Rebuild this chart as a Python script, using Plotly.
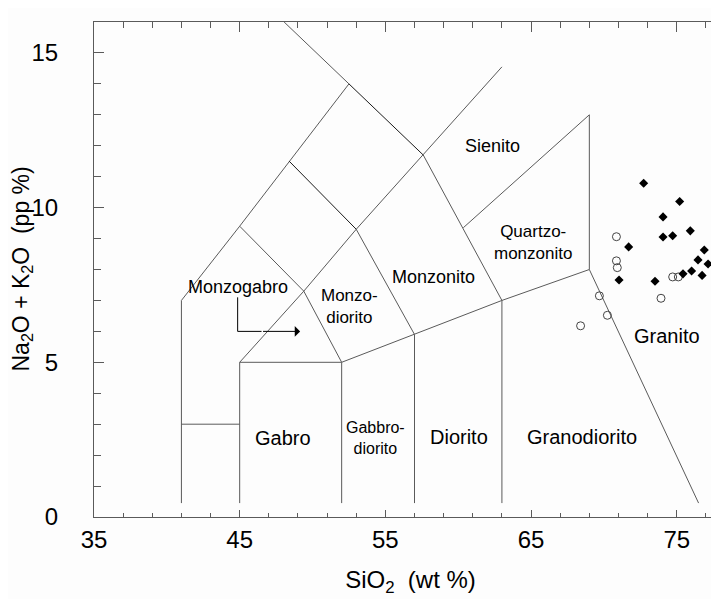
import plotly.graph_objects as go

# ---- data ----
granito_filled_x = [72.73, 75.20, 74.06, 74.06, 74.72, 75.93, 71.70, 76.89, 76.46, 77.15, 76.02, 75.43, 76.74, 71.04, 73.51]
granito_filled_y = [10.79, 10.20, 9.70, 9.05, 9.09, 9.25, 8.73, 8.63, 8.31, 8.18, 7.95, 7.86, 7.81, 7.66, 7.62]
open_x = [70.86, 70.86, 70.92, 74.72, 75.11, 73.92, 69.69, 70.24, 68.40]
open_y = [9.06, 8.28, 8.06, 7.76, 7.76, 7.07, 7.15, 6.52, 6.18]

# field boundaries (SiO2, Na2O+K2O)
boundaries = [
    [(41, 0.45), (41, 7), (45, 9.4), (48.4, 11.5), (52.5, 14)],
    [(48.05, 16), (52.5, 14)],
    [(57.6, 11.7), (63, 7)],
    [(41, 3), (45, 3)],
    [(45, 0.45), (45, 5), (52, 5), (57, 5.9), (63, 7), (69, 8), (76.5, 0.45)],
    [(52, 0.45), (52, 5)],
    [(57, 0.45), (57, 5.9)],
    [(63, 0.45), (63, 7)],
    [(45, 5), (49.4, 7.3), (53, 9.3), (57.6, 11.7), (63, 14.55)],
    [(45, 9.4), (49.4, 7.3), (52, 5)],
    [(53, 9.3), (57, 5.9)],
    [(69, 8), (69, 13), (60.35, 9.35)],
]
dark_boundaries = [
    [(48.4, 11.5), (53, 9.3)],
    [(52.5, 14), (57.6, 11.7)],
]

labels = [
    ("Sienito", 62.35, 12.0, 18),
    ("Quartzo-<br>monzonito", 65.1, 8.88, 17),
    ("Monzonito", 58.27, 7.76, 18),
    ("Monzo-<br>diorito", 52.55, 6.81, 17),
    ("Monzogabro", 44.86, 7.44, 18),
    ("Gabro", 47.95, 2.54, 20),
    ("Gabbro-<br>diorito", 54.3, 2.54, 16),
    ("Diorito", 60.06, 2.57, 20),
    ("Granodiorito", 68.52, 2.57, 20),
    ("Granito", 74.36, 5.85, 20),
]
arrow_path = [(44.86, 7.1), (44.86, 6.0), (46.5, 6.0)]
arrow_tip = (49.15, 6.0)

FONT = "Liberation Sans, Arial, sans-serif"
LINE = "#5a5a5a"

fig = go.Figure()
for seg in boundaries:
    fig.add_trace(go.Scatter(x=[p[0] for p in seg], y=[p[1] for p in seg], mode="lines",
                             line=dict(color=LINE, width=1), showlegend=False, hoverinfo="skip"))
for seg in dark_boundaries:
    fig.add_trace(go.Scatter(x=[p[0] for p in seg], y=[p[1] for p in seg], mode="lines",
                             line=dict(color="#1a1a1a", width=1), showlegend=False, hoverinfo="skip"))
fig.add_trace(go.Scatter(x=[p[0] for p in arrow_path], y=[p[1] for p in arrow_path], mode="lines",
                         line=dict(color="#000", width=1), showlegend=False, hoverinfo="skip"))

fig.add_trace(go.Scatter(x=open_x, y=open_y, mode="markers",
                         marker=dict(symbol="circle-open", size=8, color="#444", line=dict(width=1, color="#444")),
                         showlegend=False))
fig.add_trace(go.Scatter(x=granito_filled_x, y=granito_filled_y, mode="markers",
                         marker=dict(symbol="diamond", size=7, color="#000"), showlegend=False))
# trace for the top axis
fig.add_trace(go.Scatter(x=[None], y=[None], xaxis="x2", showlegend=False, hoverinfo="skip"))

for text, x, y, size in labels:
    fig.add_annotation(x=x, y=y, text=text, showarrow=False, xref="x", yref="y",
                       font=dict(family=FONT, size=size, color="#000"), align="center")
fig.add_annotation(x=arrow_tip[0], y=arrow_tip[1], ax=arrow_path[-1][0], ay=arrow_path[-1][1],
                   xref="x", yref="y", axref="x", ayref="y", text="", showarrow=True,
                   arrowhead=1, arrowsize=1.8, arrowwidth=1, arrowcolor="#000")

# y-axis title as a rotated annotation near the left edge
fig.add_annotation(x=-72 / 633, y=0.5, xref="paper", yref="paper", xanchor="center", yanchor="middle",
                   text="Na<sub>2</sub>O + K<sub>2</sub>O  (pp %)", textangle=-90, showarrow=False,
                   font=dict(family=FONT, size=23, color="#000"))

XR = [35, 78.45]
fig.update_layout(
    width=719, height=599,
    margin=dict(l=86, r=0, t=14, b=89.5),
    paper_bgcolor="#fdfdfd", plot_bgcolor="#fdfdfd",
    font=dict(family=FONT, color="#000"),
    xaxis=dict(range=XR, showline=True, linecolor=LINE, linewidth=1, showgrid=False, zeroline=False,
               ticks="inside", tick0=35, dtick=10, ticklen=7, tickcolor=LINE, tickwidth=1,
               minor=dict(tick0=35, dtick=2, ticks="inside", ticklen=4, tickcolor=LINE, showgrid=False),
               tickfont=dict(size=24, family=FONT), ticklabelstandoff=1,
               title=dict(text="SiO<sub>2</sub>  (wt %)", font=dict(size=24, family=FONT), standoff=19)),
    xaxis2=dict(range=XR, overlaying="x", side="top", showline=True, linecolor=LINE, linewidth=1,
                showgrid=False, zeroline=False, showticklabels=False,
                ticks="inside", tick0=35, dtick=10, ticklen=10, tickcolor=LINE,
                minor=dict(tick0=35, dtick=2, ticks="inside", ticklen=6, tickcolor=LINE, showgrid=False)),
    yaxis=dict(range=[0, 16], showline=True, linecolor=LINE, linewidth=1, showgrid=False, zeroline=False,
               ticks="inside", tick0=0, dtick=5, ticklen=10, tickcolor=LINE,
               minor=dict(tick0=0, dtick=1, ticks="inside", ticklen=7, tickcolor=LINE, showgrid=False),
               tickfont=dict(size=24, family=FONT), ticklabelstandoff=30),
)

fig.write_html("out.html")
